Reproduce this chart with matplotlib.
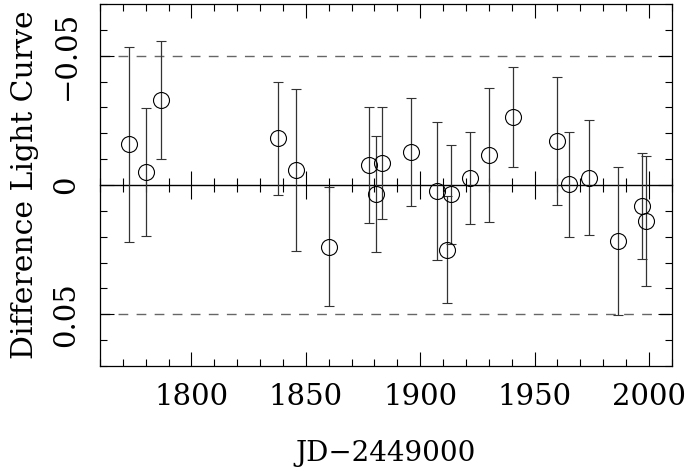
import numpy as np
import matplotlib
matplotlib.use('Agg')
import matplotlib.pyplot as plt
from matplotlib.ticker import MultipleLocator

plt.rcParams['font.family'] = ['DejaVu Serif']
plt.rcParams['axes.unicode_minus'] = True

# dates (JD-2449000), light curve difference and 1-sigma errors
jd = [1772.8, 1780.0, 1786.7, 1837.7, 1845.7, 1860.2, 1877.5, 1880.6, 1883.5,
      1896.2, 1907.4, 1911.7, 1913.4, 1921.9, 1930.3, 1940.4, 1960.0, 1965.0,
      1974.0, 1986.5, 1996.8, 1998.9]
diff = [-0.0157, -0.0049, -0.0329, -0.0180, -0.0059, 0.0238, -0.0078, 0.0036,
        -0.0086, -0.0126, 0.0023, 0.0250, 0.0036, -0.0028, -0.0117, -0.0264,
        -0.0171, -0.0003, -0.0028, 0.0217, 0.0081, 0.0139]
err = [0.0377, 0.0248, 0.0229, 0.0219, 0.0314, 0.0230, 0.0225, 0.0224, 0.0217,
       0.0209, 0.0266, 0.0207, 0.0191, 0.0177, 0.0260, 0.0194, 0.0248, 0.0203,
       0.0222, 0.0286, 0.0206, 0.0250]
limit = 0.05
xticks = [1800, 1850, 1900, 1950, 2000]
yticks = [-0.05, 0, 0.05]
ytick_labels = ['\u22120.05', '0', '0.05']

fig = plt.figure(figsize=(6.85, 4.70), dpi=100)
ax = fig.add_axes([0.146, 0.2213, 0.8346, 0.7702])

ax.axhline(limit, color='0.4', lw=1.0, dashes=(7, 6), zorder=1)
ax.axhline(-limit, color='0.4', lw=1.0, dashes=(7, 6), zorder=1)

ax.errorbar(jd, diff, yerr=err, fmt='o', mfc='none', mec='k', mew=0.8, ms=11.5,
            ecolor='0.2', elinewidth=0.9, capsize=3.6, capthick=0.9, zorder=3)

ax.set_xlim(1760, 2010)
ax.set_ylim(0.07, -0.07)

ax.set_xticks(xticks)
ax.xaxis.set_minor_locator(MultipleLocator(10))
ax.set_yticks(yticks)
ax.set_yticklabels(ytick_labels, rotation=90, va='center')
ax.yaxis.set_minor_locator(MultipleLocator(0.01))

ax.tick_params(which='both', direction='in', top=True, right=True, width=0.8,
               colors='k')
ax.tick_params(which='major', length=10)
ax.tick_params(which='minor', length=4.8)
ax.tick_params(axis='x', labelsize=21, pad=12)
ax.tick_params(axis='y', labelsize=21, pad=14)
for sp in ax.spines.values():
    sp.set_linewidth(0.9)

# zero line with ticks through it
zero = ax.secondary_xaxis(0.5)
zero.set_xticks(xticks)
zero.xaxis.set_minor_locator(MultipleLocator(10))
zero.tick_params(which='both', direction='inout', width=0.8,
                 labeltop=False, labelbottom=False)
zero.tick_params(which='major', length=20)
zero.tick_params(which='minor', length=9.5)
for sp in zero.spines.values():
    sp.set_linewidth(1.0)

ax.set_xlabel('JD\u22122449000', fontsize=20)
ax.xaxis.set_label_coords(0.5, -0.205)
ax.set_ylabel('Difference Light Curve', fontsize=21.5)
ax.yaxis.set_label_coords(-0.106, 0.5)

fig.savefig('out.png', dpi=100)
